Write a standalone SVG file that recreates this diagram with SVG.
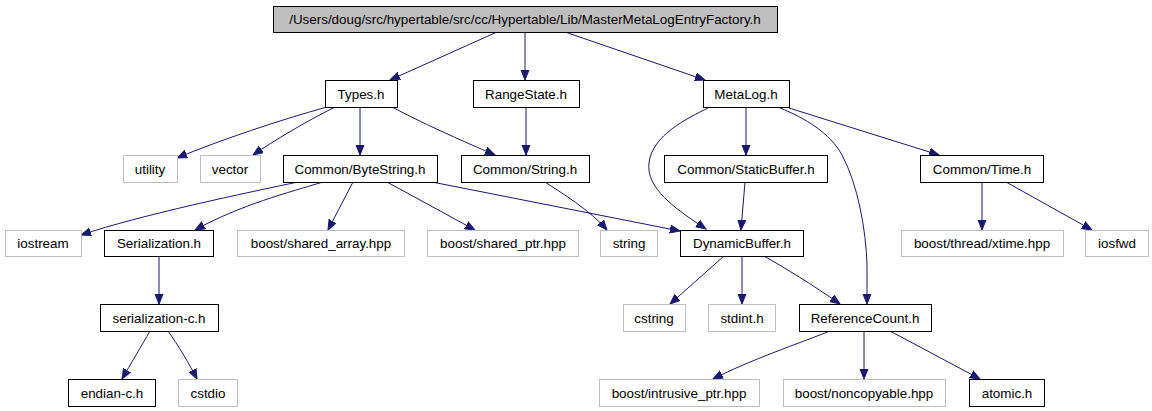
<svg xmlns="http://www.w3.org/2000/svg" width="1152" height="411" viewBox="0 0 1152 411">
<style>
.n rect{fill:#fff;stroke:#000;stroke-width:1}
.g rect{fill:#fff;stroke:#bfbfbf;stroke-width:1}
.r rect{fill:#bfbfbf;stroke:#000;stroke-width:1}
text{font-family:"Liberation Sans",Arial,sans-serif;font-size:13.4px;fill:#000;text-anchor:middle}
#edges path{fill:none;stroke:#191970;stroke-width:1;marker-end:url(#ah)}
</style>
<defs>
<marker id="ah" markerUnits="userSpaceOnUse" markerWidth="12" markerHeight="10" refX="10" refY="4.5" orient="auto">
<path d="M0,0.5 L10,4.5 L0,8.5 Z" fill="#191970" stroke="#191970" stroke-width="1"/>
</marker>
</defs>
<rect width="1152" height="411" fill="#fff"/>
<g id="edges">
<path d="M497,32 L390,80"/>
<path d="M525,32 L525,80"/>
<path d="M565,32 L705,80"/>
<path d="M327,107 C280,120 220,140 177,158"/>
<path d="M335,107 C305,122 275,140 253,155"/>
<path d="M360,107 L360,155"/>
<path d="M392,107 C420,122 460,140 495,155"/>
<path d="M526,107 L526,155"/>
<path d="M746,107 L746,155"/>
<path d="M708,108 C688,118 652,135 649,163 C646,188 674,208 706,229"/>
<path d="M780,108 C805,118 830,133 842,155 C858,185 866,230 867,265 L867,304"/>
<path d="M789,108 L939,155"/>
<path d="M745,182 L741,230"/>
<path d="M982,182 L982,230"/>
<path d="M1006,182 L1092,230"/>
<path d="M298,182 C250,192 140,215 81,235"/>
<path d="M323,182 C290,192 240,205 195,230"/>
<path d="M353,182 L328,230"/>
<path d="M387,182 L475,230"/>
<path d="M432,182 L680,231"/>
<path d="M545,182 C560,192 590,210 607,230"/>
<path d="M159,256 L159,304"/>
<path d="M150,331 C142,345 130,365 122,379"/>
<path d="M168,331 C178,345 190,365 197,379"/>
<path d="M724,256 L670,304"/>
<path d="M742,256 L742,304"/>
<path d="M764,256 C785,268 813,285 840,304"/>
<path d="M830,331 C800,343 750,360 713,379"/>
<path d="M864,331 L864,379"/>
<path d="M890,331 L980,379"/>
</g>
<g id="root" class="r"><rect x="273.5" y="6.5" width="504" height="26"/><text x="525" y="24">/Users/doug/src/hypertable/src/cc/Hypertable/Lib/MasterMetaLogEntryFactory.h</text></g>
<g id="types" class="n"><rect x="325.5" y="80.5" width="72" height="27"/><text x="361" y="98.5">Types.h</text></g>
<g id="rangestate" class="n"><rect x="473.5" y="80.5" width="106" height="27"/><text x="526" y="98.5">RangeState.h</text></g>
<g id="metalog" class="n"><rect x="703.5" y="80.5" width="86" height="27"/><text x="746" y="98.5">MetaLog.h</text></g>
<g id="utility" class="g"><rect x="123.5" y="155.5" width="54" height="27"/><text x="150" y="173.5">utility</text></g>
<g id="vector" class="g"><rect x="200.5" y="155.5" width="60" height="27"/><text x="230" y="173.5">vector</text></g>
<g id="bytestring" class="n"><rect x="283.5" y="155.5" width="154" height="27"/><text x="360" y="173.5">Common/ByteString.h</text></g>
<g id="string_h" class="n"><rect x="461.5" y="155.5" width="128" height="27"/><text x="525" y="173.5">Common/String.h</text></g>
<g id="staticbuffer" class="n"><rect x="664.5" y="155.5" width="163" height="27"/><text x="746" y="173.5">Common/StaticBuffer.h</text></g>
<g id="time" class="n"><rect x="920.5" y="155.5" width="123" height="27"/><text x="982" y="173.5">Common/Time.h</text></g>
<g id="iostream" class="g"><rect x="5.5" y="230.5" width="76" height="26"/><text x="43" y="248">iostream</text></g>
<g id="serialization" class="n"><rect x="104.5" y="230.5" width="109" height="26"/><text x="159" y="248">Serialization.h</text></g>
<g id="shared_array" class="g"><rect x="237.5" y="230.5" width="167" height="26"/><text x="321" y="248">boost/shared_array.hpp</text></g>
<g id="shared_ptr" class="g"><rect x="427.5" y="230.5" width="151" height="26"/><text x="503" y="248">boost/shared_ptr.hpp</text></g>
<g id="string" class="g"><rect x="600.5" y="230.5" width="57" height="26"/><text x="629" y="248">string</text></g>
<g id="dynamicbuffer" class="n"><rect x="680.5" y="230.5" width="123" height="26"/><text x="742" y="248">DynamicBuffer.h</text></g>
<g id="xtime" class="g"><rect x="901.5" y="230.5" width="162" height="26"/><text x="982" y="248">boost/thread/xtime.hpp</text></g>
<g id="iosfwd" class="g"><rect x="1085.5" y="230.5" width="63" height="26"/><text x="1117" y="248">iosfwd</text></g>
<g id="serialization_c" class="n"><rect x="100.5" y="304.5" width="118" height="27"/><text x="159" y="322.5">serialization-c.h</text></g>
<g id="cstring" class="g"><rect x="623.5" y="304.5" width="62" height="27"/><text x="654" y="322.5">cstring</text></g>
<g id="stdint" class="g"><rect x="708.5" y="304.5" width="67" height="27"/><text x="742" y="322.5">stdint.h</text></g>
<g id="refcount" class="n"><rect x="799.5" y="304.5" width="132" height="27"/><text x="865" y="322.5">ReferenceCount.h</text></g>
<g id="endian_c" class="n"><rect x="68.5" y="379.5" width="87" height="27"/><text x="112" y="397.5">endian-c.h</text></g>
<g id="cstdio" class="g"><rect x="178.5" y="379.5" width="59" height="27"/><text x="208" y="397.5">cstdio</text></g>
<g id="intrusive_ptr" class="g"><rect x="599.5" y="379.5" width="160" height="27"/><text x="679" y="397.5">boost/intrusive_ptr.hpp</text></g>
<g id="noncopyable" class="g"><rect x="783.5" y="379.5" width="162" height="27"/><text x="864" y="397.5">boost/noncopyable.hpp</text></g>
<g id="atomic" class="n"><rect x="969.5" y="379.5" width="75" height="27"/><text x="1007" y="397.5">atomic.h</text></g>
</svg>
